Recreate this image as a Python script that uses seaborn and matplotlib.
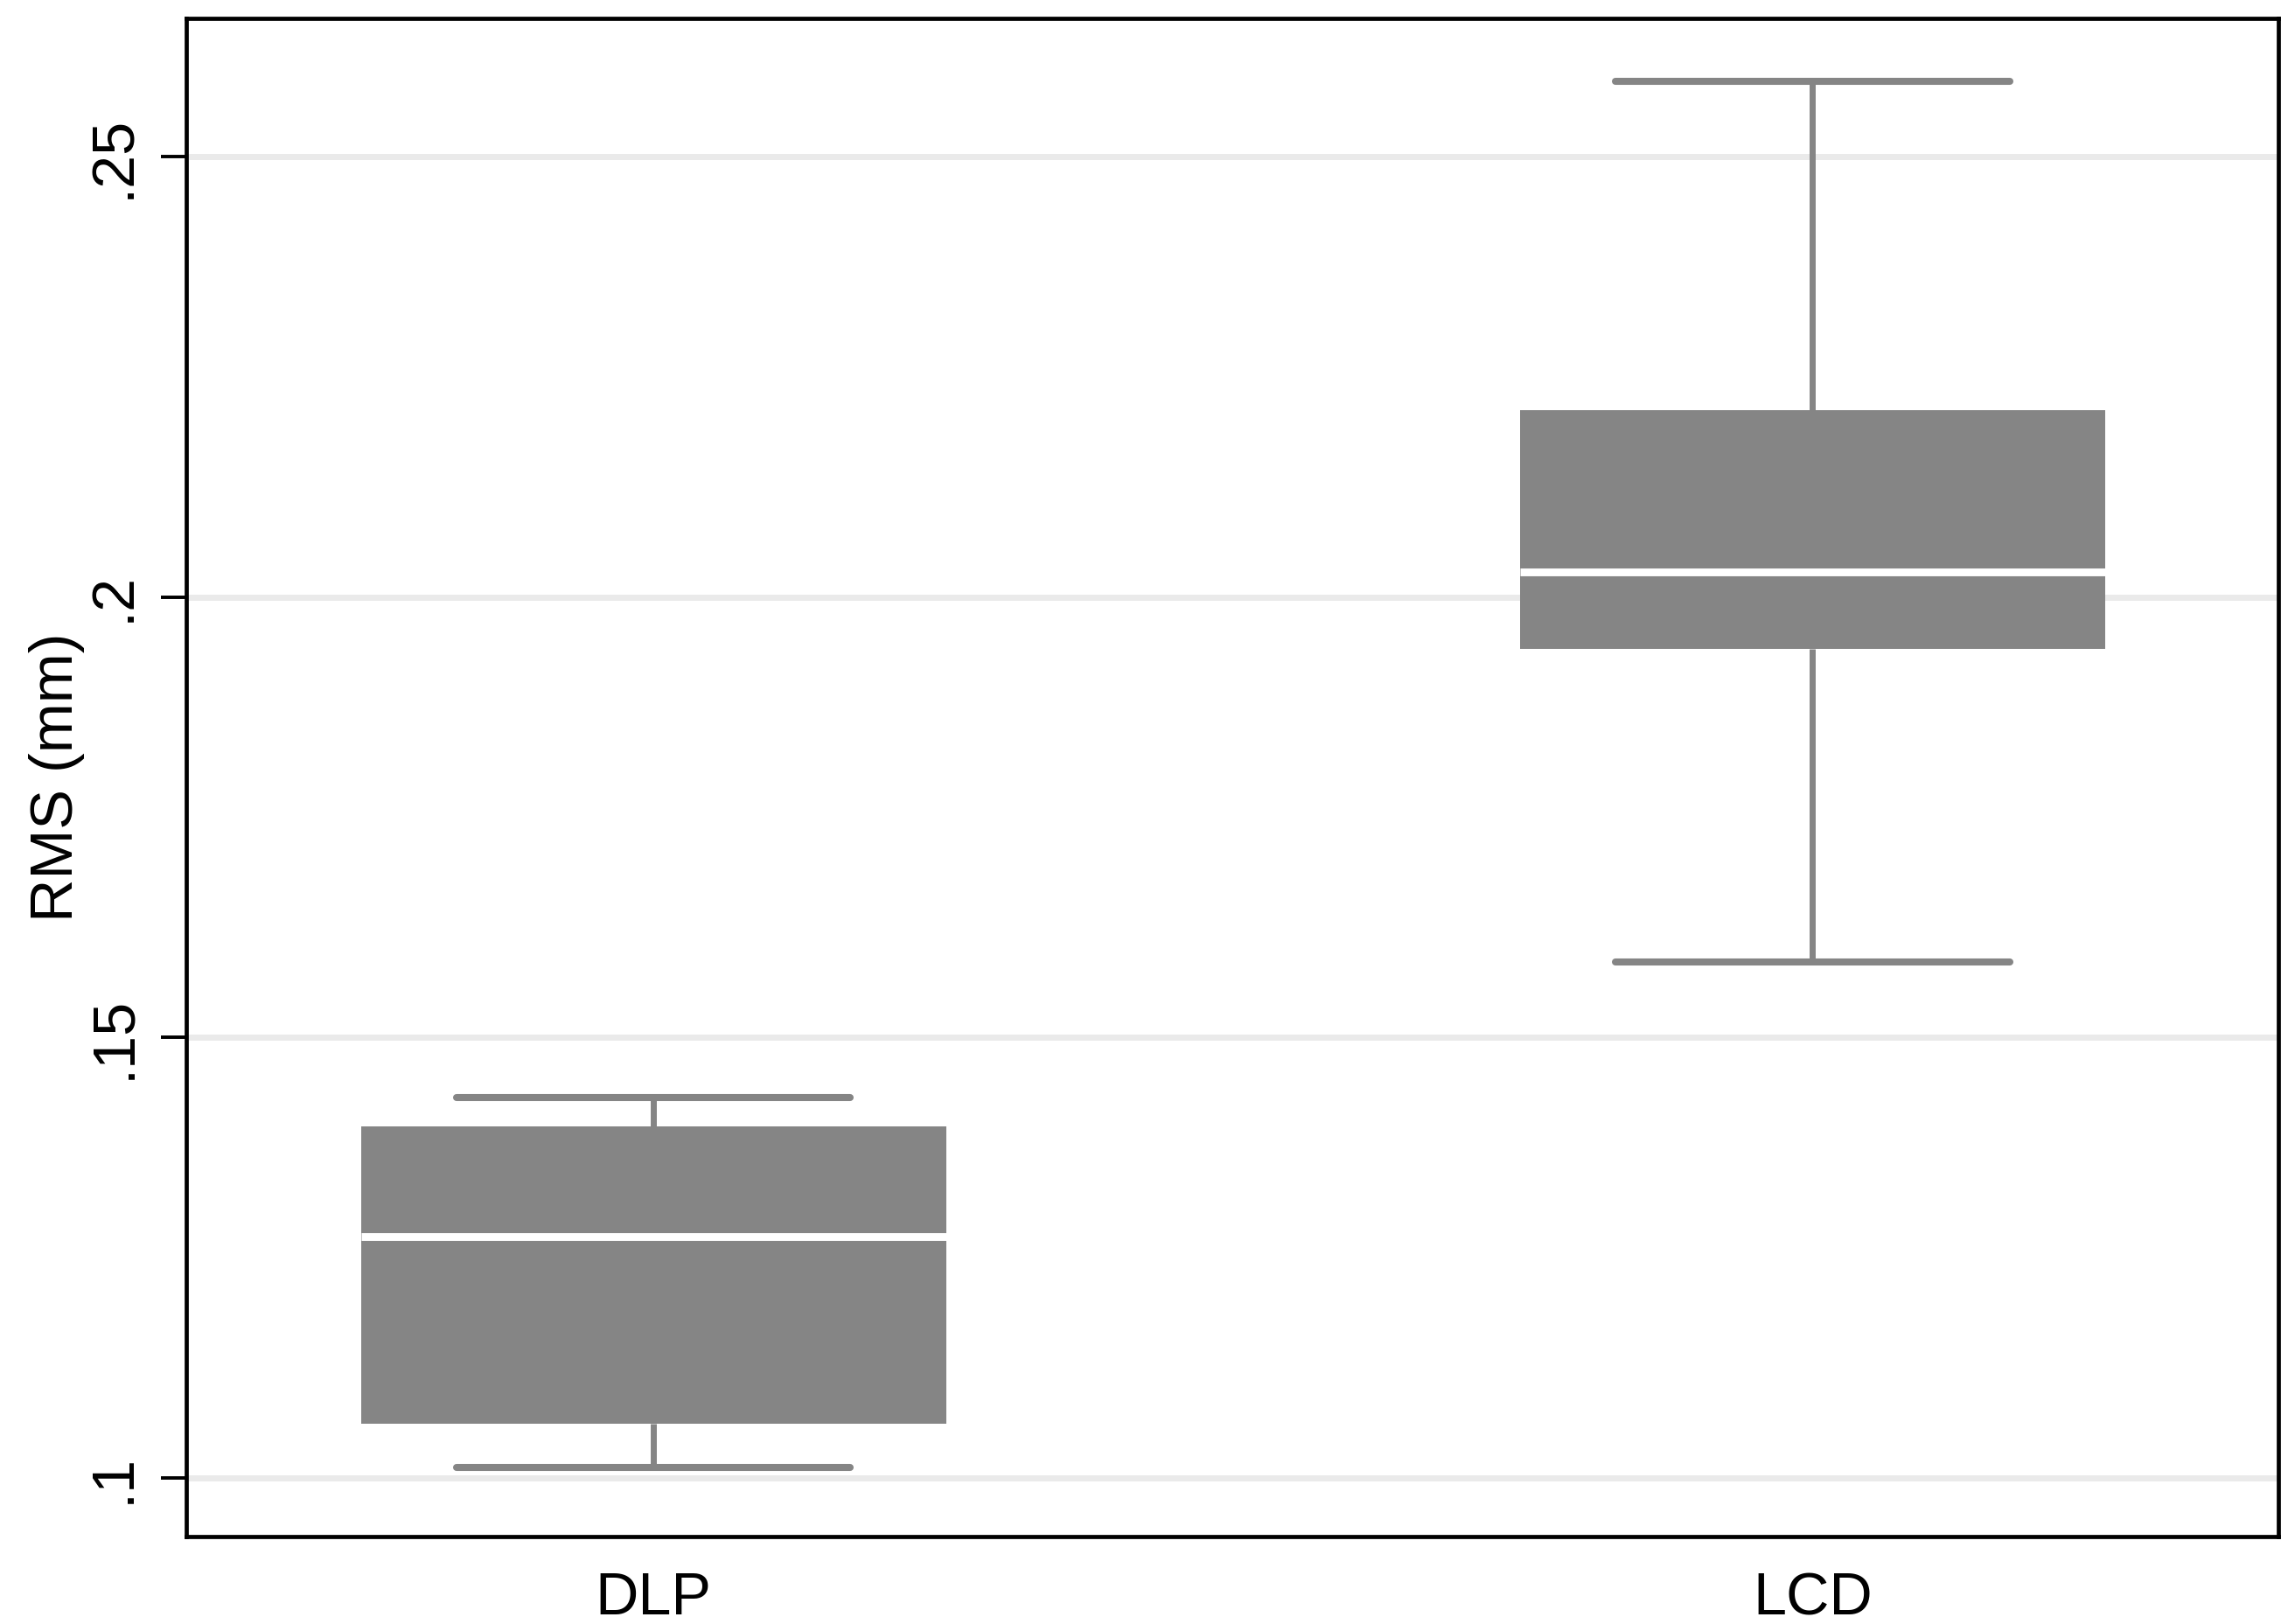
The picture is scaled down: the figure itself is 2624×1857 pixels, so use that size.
import matplotlib
matplotlib.use("Agg")
import matplotlib.pyplot as plt
import seaborn as sns
import pandas as pd

# ---- data ----
categories = ["DLP", "LCD"]
dlp_rms = [0.1012, 0.1062, 0.1274, 0.1399, 0.1432]   # min, q1, median, q3, max
lcd_rms = [0.1586, 0.1941, 0.2029, 0.2212, 0.2586]
y_ticks = [0.10, 0.15, 0.20, 0.25]
y_tick_labels = [".1", ".15", ".2", ".25"]
y_label = "RMS (mm)"

df = pd.DataFrame({
    "group": [categories[0]] * len(dlp_rms) + [categories[1]] * len(lcd_rms),
    "rms": dlp_rms + lcd_rms,
})

sns.set_theme(style="white")
plt.rcParams["font.family"] = ["Liberation Sans", "DejaVu Sans"]

box_color = "#858585"
fs = 24.6

fig = plt.figure(figsize=(13.12, 9.285), dpi=200)
ax = fig.add_axes([0.0810, 0.05385, 0.9118, 0.93484])

sns.boxplot(
    data=df, x="group", y="rms", order=categories,
    whis=(0, 100), width=0.505, color=box_color, linecolor=box_color,
    saturation=1, fill=True, showfliers=False, linewidth=2.5,
    medianprops=dict(color="white", linewidth=3.2),
    boxprops=dict(linewidth=0),
    whiskerprops=dict(linewidth=2.5),
    capprops=dict(linewidth=2.9, solid_capstyle="round"),
    capwidths=0.34,
    ax=ax,
)

ax.set_xlim(-0.4034, 1.402)
ax.set_ylim(0.09335, 0.2657)
ax.set_yticks(y_ticks)
ax.set_yticklabels(y_tick_labels)
ax.set_axisbelow(True)
ax.yaxis.grid(True, color="#eaeaea", linewidth=2.5)
ax.xaxis.grid(False)

ax.tick_params(axis="y", left=True, length=10.4, width=1.4, color="black",
               pad=7.8, labelsize=fs, labelcolor="black")
for lab in ax.get_yticklabels():
    lab.set_rotation(90)
    lab.set_va("center")
ax.tick_params(axis="x", bottom=False, length=0, pad=14.2, labelsize=fs,
               labelcolor="black")

ax.set_xlabel("")
ax.set_ylabel(y_label, fontsize=fs, color="black", labelpad=0.5)

for s in ax.spines.values():
    s.set_color("black")
    s.set_linewidth(1.7)

fig.savefig("out.png", dpi=200, facecolor="white")
